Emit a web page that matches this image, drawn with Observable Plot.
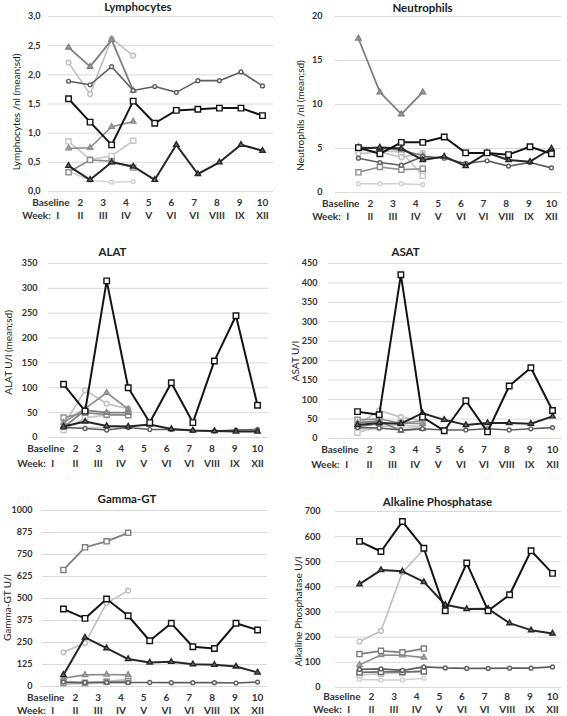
<!DOCTYPE html>
<html><head><meta charset="utf-8">
<script src="https://cdn.jsdelivr.net/npm/d3@7"></script>
<script src="https://cdn.jsdelivr.net/npm/@observablehq/plot@0.6"></script>
<style>
body{margin:0;background:#fff;}
#root{position:relative;width:567px;height:716px;overflow:hidden;font-family:Lato,sans-serif;background:#fff;}
.panel{position:absolute;}
</style></head><body><div id="root"></div>
<script>
// ---- category labels ----
const weekNumbers = ["Baseline","2","3","4","5","6","7","8","9","10"];
const weekRoman = ["I","II","III","IV","V","VI","VI","VIII","IX","XII"];
const seriesNames = ["A","B","C","D","E","F","G","H","I"];

// ---- values per panel, series in seriesNames order ----
const lymphocytes = [
  [1.89,1.83,2.14,1.73,1.80,1.70,1.90,1.90,2.05,1.81],
  [1.59,1.19,0.80,1.55,1.17,1.39,1.41,1.43,1.43,1.30],
  [0.44,0.20,0.50,0.43,0.20,0.80,0.30,0.50,0.80,0.70],
  [2.47,2.14,2.60,1.73],
  [2.21,1.67,2.62,2.33],
  [0.74,0.75,1.11,1.20],
  [0.86,0.55,0.61,0.87],
  [0.33,0.54,0.52,0.41],
  [0.35,0.19,0.16,0.17]
];
const neutrophils = [
  [3.9,3.4,3.1,4.1,3.9,3.3,3.6,3.0,3.4,2.8],
  [5.1,4.4,5.7,5.7,6.3,4.5,4.5,4.3,5.2,4.4],
  [5.0,5.1,5.0,3.7,4.1,3.0,4.5,3.7,3.5,5.0],
  [17.5,11.4,8.9,11.4],
  [4.4,4.6,4.0,4.5],
  [5.2,5.0,4.8,4.2],
  [4.8,4.7,4.6,1.9],
  [2.3,2.9,2.6,2.7],
  [1.0,1.0,1.0,0.9]
];
const alat = [
  [20,18,15,20,16,16,14,13,15,16],
  [107,53,315,100,30,110,30,154,245,65],
  [22,32,23,22,26,17,14,13,12,12],
  [20,55,50,50],
  [25,95,68,58],
  [30,58,90,57],
  [15,40,45,45],
  [40,50,46,45],
  [20,20,20,20]
];
const asat = [
  [28,27,22,25,22,22,25,22,25,28],
  [69,61,421,55,20,97,17,135,182,72],
  [35,40,38,65,48,35,40,40,38,57],
  [40,45,20,25],
  [35,72,55,45],
  [30,38,40,38],
  [15,30,35,30],
  [48,50,40,45],
  [22,25,28,28]
];
const gammaGT = [
  [25,23,23,23,23,22,22,22,20,25],
  [440,387,497,402,260,359,226,216,359,321],
  [66,279,218,156,137,140,127,123,114,80],
  [662,791,825,873],
  [194,247,474,545],
  [47,66,68,66],
  [25,22,28,42],
  [20,20,27,30],
  [12,15,20,22]
];
const alkalinePhosphatase = [
  [72,74,68,82,78,76,76,77,77,82],
  [581,541,660,554,305,495,305,369,544,454],
  [411,467,462,420,329,312,313,256,228,215],
  [133,146,140,155],
  [183,225,458,550],
  [90,129,128,119],
  [50,55,58,65],
  [60,62,62,64],
  [32,30,30,37]
];

// ---- y tick values ----
const lymphTicks = [0,0.5,1,1.5,2,2.5,3];
const neutroTicks = [0,5,10,15,20];
const alatTicks = [0,50,100,150,200,250,300,350];
const asatTicks = [0,50,100,150,200,250,300,350,400,450];
const ggtTicks = [0,125,250,375,500,625,750,875,1000];
const alpTicks = [0,100,200,300,400,500,600,700];

// ---- styles ----
const seriesStyle = {
  A:{stroke:"#5e5e5e", symbol:"circle",   r:1.9, fill:"#ffffff", sw:1.6},
  B:{stroke:"#141414", symbol:"square",   r:3.1, fill:"#ffffff", sw:2.0},
  C:{stroke:"#262626", symbol:"triangle", r:2.0, fill:"#6a6a6a", sw:2.0},
  D:{stroke:"#7f7f7f", symbol:"triangle", r:2.0, fill:"#a0a0a0", sw:1.8},
  E:{stroke:"#bfbfbf", symbol:"circle",   r:2.4, fill:"#ffffff", sw:1.6},
  F:{stroke:"#8c8c8c", symbol:"triangle", r:2.0, fill:"#a8a8a8", sw:1.6},
  G:{stroke:"#c6c6c6", symbol:"square",   r:2.9, fill:"#ffffff", sw:1.6},
  H:{stroke:"#8f8f8f", symbol:"square",   r:2.9, fill:"#ffffff", sw:1.6},
  I:{stroke:"#d0d0d0", symbol:"circle",   r:1.9, fill:"#ffffff", sw:1.4}
};
const drawOrder = ["I","G","E","H","F","D","A","C","B"];
const comma1 = d => d.toFixed(1).replace(".", ",");
const plain = d => String(d);

const panels = [
  {title:"Lymphocytes", yLabel:"Lymphocytes /nl (mean;sd)", data:lymphocytes, ticks:lymphTicks, fmt:comma1,
   left:0, top:0, w:284, h:235, mL:48, mR:11, mT:16, mB:44, xDom:[0.07,10.51], tickPad:8,
   titleDx:-23, titleDy:-9, yLabX:16, yLabDy:8, row1:11, row2:24, over:{}},
  {title:"Neutrophils", yLabel:"Neutrophils /nl (mean;sd)", data:neutrophils, ticks:neutroTicks, fmt:plain,
   left:284, top:0, w:283, h:235, mL:51, mR:6, mT:16, mB:43, xDom:[-0.07,10.47], tickPad:13,
   titleDx:-26, titleDy:-8, yLabX:16, yLabDy:11, row1:11, row2:24, over:{}},
  {title:"ALAT", yLabel:"ALAT U/l (mean;sd)", data:alat, ticks:alatTicks, fmt:plain,
   left:0, top:235, w:284, h:235, mL:48, mR:16, mT:28, mB:33, xDom:[0.30,10.51], tickPad:11,
   titleDx:-46, titleDy:-11, yLabX:8, yLabDy:2, row1:11, row2:26, over:{}},
  {title:"ASAT", yLabel:"ASAT U/l", data:asat, ticks:asatTicks, fmt:plain,
   left:284, top:235, w:283, h:235, mL:44, mR:5, mT:28, mB:32, xDom:[-0.34,10.46], tickPad:11,
   titleDx:-40, titleDy:-11, yLabX:11, yLabDy:10, row1:11, row2:26, over:{}},
  {title:"Gamma-GT", yLabel:"Gamma-GT U/l", data:gammaGT, ticks:ggtTicks, fmt:plain,
   left:0, top:470, w:284, h:246, mL:42, mR:17, mT:40, mB:30, xDom:[0.03,10.46], tickPad:10,
   titleDx:-28, titleDy:-11, yLabX:7, yLabDy:9, row1:11, row2:24, over:{D:{symbol:"square", r:2.9, fill:"#ffffff"}}},
  {title:"Alkaline Phosphatase", yLabel:"Alkaline Phosphatase U/l", data:alkalinePhosphatase, ticks:alpTicks, fmt:plain,
   left:284, top:470, w:283, h:246, mL:51, mR:6, mT:41, mB:29, xDom:[-0.12,10.42], tickPad:15,
   titleDx:-11, titleDy:-9, yLabX:14, yLabDy:12, row1:9, row2:22,
   over:{D:{symbol:"square", r:2.9, fill:"#ffffff"}, H:{stroke:"#6e6e6e"}}}
];

const labelPos = i => 0.5 + i * 9.5 / 9;
const textStyle = {fontWeight:"bold", fontSize:10, fill:"#333"};

const root = document.getElementById("root");
for (const p of panels) {
  const marks = [
    Plot.gridY({ticks:p.ticks, stroke:"#d9d9d9", strokeOpacity:1, strokeWidth:1}),
    Plot.axisY({ticks:p.ticks, tickSize:0, tickPadding:p.tickPad, tickFormat:p.fmt, label:null,
                fontWeight:"bold", fontSize:9, fill:"#333"})
  ];
  for (const name of drawOrder) {
    const idx = seriesNames.indexOf(name);
    const st = Object.assign({}, seriesStyle[name], p.over[name] || {});
    const rows = p.data[idx].map((v, i) => ({week: i + 1, value: v}));
    marks.push(Plot.line(rows, {x:"week", y:"value", stroke:st.stroke, strokeWidth:st.sw, curve:"linear"}));
    marks.push(Plot.dot(rows, {x:"week", y:"value", symbol:st.symbol, r:st.r, fill:st.fill, stroke:st.stroke, strokeWidth:1.4}));
  }
  // category label rows
  const numRows = weekNumbers.slice(1).map((t, i) => ({t, u: labelPos(i + 1)}));
  const romRows = weekRoman.map((t, i) => ({t, u: labelPos(i)}));
  marks.push(Plot.text(numRows, {x:"u", text:"t", frameAnchor:"bottom", dy:p.row1, lineAnchor:"middle", ...textStyle}));
  marks.push(Plot.text([{t:weekNumbers[0], u:1}], {x:"u", text:"t", frameAnchor:"bottom", dy:p.row1, lineAnchor:"middle", textAnchor:"end", dx:1, ...textStyle}));
  marks.push(Plot.text(romRows, {x:"u", text:"t", frameAnchor:"bottom", dy:p.row2, lineAnchor:"middle", ...textStyle}));
  marks.push(Plot.text([{t:"Week:", u:labelPos(0)}], {x:"u", text:"t", frameAnchor:"bottom", dy:p.row2, lineAnchor:"middle", textAnchor:"end", dx:-7, ...textStyle}));
  // title
  marks.push(Plot.text([p.title], {text:d=>d, frameAnchor:"top", dx:p.titleDx, dy:p.titleDy, lineAnchor:"middle",
    fontWeight:"bold", fontSize:11.5, fill:"#222"}));
  // y axis title
  marks.push(Plot.text([p.yLabel], {text:d=>d, frameAnchor:"left", rotate:-90, dx:p.yLabX - p.mL, dy:p.yLabDy,
    textAnchor:"middle", lineAnchor:"middle", fontSize:10, fill:"#222"}));

  const chart = Plot.plot({
    width:p.w, height:p.h,
    marginLeft:p.mL, marginRight:p.mR, marginTop:p.mT, marginBottom:p.mB,
    x:{type:"linear", domain:p.xDom, axis:null},
    y:{domain:[p.ticks[0], p.ticks[p.ticks.length - 1]]},
    style:{fontFamily:"Lato, sans-serif", background:"transparent", overflow:"visible", color:"#333"},
    marks
  });
  const div = document.createElement("div");
  div.className = "panel";
  div.style.left = p.left + "px";
  div.style.top = p.top + "px";
  div.appendChild(chart);
  root.appendChild(div);
}
</script></body></html>
